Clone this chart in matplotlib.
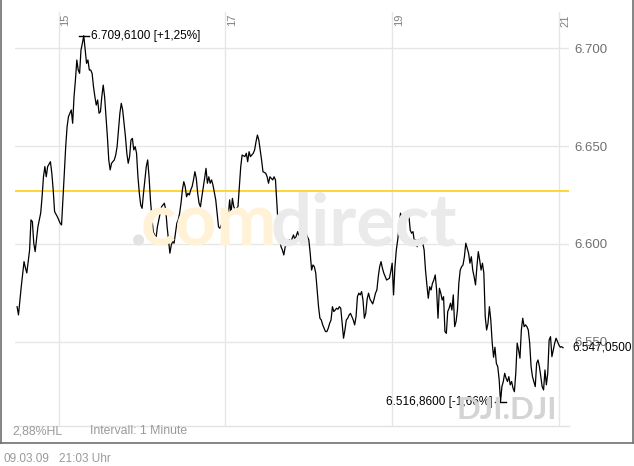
import matplotlib
matplotlib.use("Agg")
import matplotlib.pyplot as plt
from matplotlib.lines import Line2D
from matplotlib.transforms import blended_transform_factory, offset_copy

# ---------------- data (minutes after 14:30, index level) ----------------
minutes = [0, 1, 3, 5, 6, 7, 9, 10, 11, 12, 13, 15, 16, 17, 18, 19, 20, 21, 22, 24,
           25, 26, 27, 29, 31, 32, 33, 34, 35, 36, 37, 39, 40, 41, 42, 43, 44, 45, 46, 47,
           48, 49, 50, 51, 52, 53, 54, 55, 56, 57, 58, 59, 60, 61, 62, 63, 64, 65, 66, 67,
           68, 70, 71, 72, 73, 74, 75, 76, 77, 78, 79, 80, 81, 82, 83, 84, 85, 86, 87, 88,
           89, 90, 91, 92, 93, 94, 95, 96, 97, 98, 99, 100, 101, 102, 103, 104, 106, 107, 108, 109,
           110, 111, 112, 113, 114, 115, 116, 117, 118, 119, 120, 121, 122, 123, 124, 125, 126, 127, 128, 129,
           130, 131, 132, 133, 135, 136, 137, 138, 139, 140, 141, 143, 144, 145, 146, 147, 149, 150, 151, 152,
           153, 154, 155, 156, 157, 158, 159, 160, 161, 162, 164, 165, 166, 167, 168, 170, 171, 172, 173, 174,
           175, 176, 177, 179, 180, 181, 182, 184, 185, 186, 187, 188, 189, 190, 191, 192, 193, 195, 196, 197,
           198, 199, 200, 202, 203, 204, 205, 206, 207, 208, 209, 210, 211, 212, 213, 214, 215, 216, 217, 218,
           219, 220, 221, 222, 223, 224, 225, 226, 227, 228, 229, 230, 231, 232, 233, 234, 235, 236, 237, 238,
           239, 240, 241, 242, 243, 244, 245, 246, 247, 248, 249, 250, 251, 252, 253, 254, 256, 257, 258, 259,
           260, 261, 262, 263, 264, 265, 266, 268, 269, 270, 271, 272, 273, 274, 275, 276, 277, 278, 279, 280,
           281, 282, 283, 284, 285, 286, 287, 288, 289, 290, 291, 292, 293, 294, 295, 296, 297, 298, 299, 300,
           301, 302, 303, 304, 305, 306, 307, 308, 309, 310, 311, 312, 313, 314, 315, 316, 317, 318, 319, 320,
           321, 322, 323, 324, 325, 326, 327, 328, 329, 330, 331, 332, 333, 334, 335, 336, 337, 338, 339, 340,
           341, 342, 343, 344, 345, 346, 347, 348, 349, 350, 351, 352, 353, 354, 355, 356, 357, 358, 359, 360,
           361, 362, 363, 364, 365, 366, 367, 368, 369, 370, 371, 372, 373, 374, 375, 376, 377, 378, 379, 380,
           381, 382, 383, 384, 385, 386, 387, 388, 389, 390, 391, 392, 393]

values = [6568.0, 6563.8, 6578.2, 6591.0, 6587.8, 6585.2, 6596.9, 6612.3, 6611.4, 6600.5,
          6596.1, 6608.8, 6612.3, 6615.8, 6624.1, 6634.3, 6639.5, 6634.3, 6639.5, 6642.0,
          6636.1, 6627.6, 6616.5, 6613.9, 6610.6, 6609.7, 6622.5, 6636.1, 6649.7, 6659.9,
          6665.0, 6668.4, 6661.6, 6675.2, 6683.7, 6693.9, 6688.8, 6687.1, 6699.0, 6702.4,
          6706.3, 6699.0, 6692.2, 6693.9, 6688.8, 6688.8, 6687.1, 6680.3, 6675.2, 6670.9,
          6673.5, 6666.7, 6667.5, 6675.2, 6681.1, 6675.2, 6665.0, 6654.8, 6642.9, 6637.8,
          6641.2, 6642.9, 6645.4, 6649.7, 6658.2, 6666.7, 6671.8, 6668.4, 6661.6, 6654.8,
          6646.3, 6641.2, 6644.6, 6653.1, 6653.9, 6648.0, 6649.7, 6646.3, 6634.3, 6625.9,
          6619.9, 6618.2, 6625.9, 6632.7, 6639.5, 6642.9, 6634.3, 6622.5, 6613.9, 6606.3,
          6604.6, 6602.9, 6608.8, 6612.3, 6615.7, 6619.0, 6620.8, 6617.4, 6608.8, 6602.1,
          6595.3, 6599.5, 6601.2, 6600.4, 6605.5, 6610.6, 6612.3, 6615.7, 6620.8, 6627.6,
          6631.8, 6629.3, 6624.1, 6625.9, 6625.0, 6627.6, 6629.3, 6632.7, 6636.9, 6633.5,
          6625.9, 6620.8, 6619.0, 6624.1, 6633.5, 6638.6, 6631.0, 6634.3, 6631.0, 6632.7,
          6630.1, 6622.5, 6615.7, 6608.8, 6608.0, 6609.7, 6612.3, 6612.3, 6606.3, 6614.0,
          6622.5, 6615.7, 6623.3, 6619.0, 6617.4, 6618.2, 6619.0, 6629.3, 6639.5, 6645.4,
          6644.6, 6646.3, 6642.0, 6647.1, 6644.6, 6646.3, 6648.0, 6652.2, 6655.6, 6653.1,
          6648.0, 6642.9, 6636.9, 6636.1, 6634.3, 6631.0, 6634.3, 6632.7, 6634.3, 6632.7,
          6621.0, 6608.8, 6603.6, 6598.6, 6596.9, 6594.4, 6598.6, 6600.4, 6602.1, 6599.5,
          6602.9, 6604.6, 6602.1, 6606.3, 6603.7, 6602.1, 6600.4, 6603.7, 6607.1, 6605.5,
          6603.7, 6602.1, 6595.3, 6586.7, 6589.3, 6588.4, 6585.1, 6576.5, 6568.0, 6562.1,
          6561.2, 6558.7, 6557.0, 6555.3, 6555.3, 6557.0, 6559.5, 6561.2, 6568.0, 6565.5,
          6566.3, 6567.2, 6566.7, 6568.0, 6567.2, 6559.5, 6551.9, 6556.1, 6561.2, 6562.1,
          6563.7, 6564.6, 6562.9, 6561.2, 6558.7, 6562.9, 6573.1, 6574.9, 6574.0, 6575.7,
          6571.4, 6562.1, 6564.6, 6571.9, 6574.9, 6571.9, 6569.4, 6571.9, 6574.9, 6576.5,
          6583.3, 6588.4, 6591.0, 6587.6, 6585.1, 6583.3, 6581.6, 6582.5, 6585.9, 6590.2,
          6574.0, 6588.4, 6597.0, 6602.1, 6608.8, 6615.7, 6613.1, 6614.0, 6613.1, 6613.1,
          6614.0, 6614.8, 6607.1, 6605.5, 6606.3, 6601.2, 6602.1, 6598.6, 6602.1, 6601.2,
          6602.9, 6600.4, 6597.0, 6586.7, 6579.1, 6572.3, 6578.2, 6576.5, 6579.9, 6581.6,
          6584.2, 6576.5, 6562.1, 6577.4, 6574.9, 6571.4, 6573.1, 6555.3, 6554.4, 6565.5,
          6567.2, 6569.8, 6566.3, 6574.0, 6557.8, 6560.4, 6566.3, 6580.0, 6586.7, 6588.4,
          6589.3, 6593.5, 6600.4, 6597.8, 6595.3, 6590.2, 6593.5, 6586.7, 6583.3, 6579.1,
          6588.4, 6596.1, 6591.8, 6586.7, 6590.2, 6585.1, 6562.9, 6556.1, 6559.5, 6568.0,
          6561.2, 6549.8, 6542.2, 6547.3, 6539.1, 6537.4, 6531.0, 6519.5, 6527.2, 6529.8,
          6534.0, 6531.5, 6529.8, 6532.3, 6528.1, 6529.8, 6526.4, 6524.6, 6534.2, 6549.4,
          6545.9, 6541.7, 6556.1, 6562.1, 6557.8, 6558.7, 6557.8, 6556.1, 6549.4, 6537.4,
          6532.3, 6529.8, 6527.2, 6539.1, 6540.8, 6537.4, 6532.3, 6527.2, 6525.5, 6535.7,
          6528.1, 6534.0, 6551.0, 6552.7, 6542.5, 6545.9, 6549.4, 6551.9, 6550.2, 6548.5,
          6547.3, 6547.6, 6547.05]

prev_close = 6626.94
hour_ticks = [30, 150, 270, 390]          # minutes after 14:30
hour_labels = ["15", "17", "19", "21"]
y_ticks = [6550, 6600, 6650, 6700]
high_label = "6.709,6100 [+1,25%]"
low_label = "6.516,8600 [-1,66%]"
last_label = "6.547,0500"
hl_label = "2,88%HL"
interval_label = "Intervall: 1 Minute"
date_label = "09.03.09"
time_label = "21:03 Uhr"

# ---------------- figure ----------------
W, H = 634, 466
fig = plt.figure(figsize=(W / 100, H / 100), dpi=100)
fig.patch.set_facecolor("white")

def fx(x):
    return x / W

def fy(y):
    return 1 - y / H

ax_left, ax_right, ax_top, ax_bot = 15, 569, 12, 426
ax = fig.add_axes([fx(ax_left), fy(ax_bot), (ax_right - ax_left) / W, (ax_bot - ax_top) / H])
ax.set_facecolor("none")
ax.set_xlim(-1.5, 397.3)
ax.set_ylim(6507.1, 6718.4)

for s in ["top", "left", "right"]:
    ax.spines[s].set_visible(False)
ax.spines["bottom"].set_color("#e2e2e2")
ax.spines["bottom"].set_linewidth(1.0)

grid_c = "#e6e6e6"
for t in y_ticks:
    ax.axhline(t, color=grid_c, lw=1.0, zorder=1)
for t in hour_ticks:
    ax.axvline(t, color=grid_c, lw=1.0, zorder=1)

ax.set_xticks([])
ax.yaxis.tick_right()
ax.set_yticks(y_ticks)
ax.set_yticklabels([f"{v:,.0f}".replace(",", ".") for v in y_ticks])
ax.tick_params(axis="y", length=0, pad=4, labelsize=9.5, labelcolor="#707070")
for lab in ax.get_yticklabels():
    lab.set_fontfamily("Liberation Sans")

# hour labels (rotated, at top, right of the gridlines)
trans = offset_copy(blended_transform_factory(ax.transData, ax.transAxes), fig=fig, x=1.5, y=-2, units="dots")
for t, lab in zip(hour_ticks, hour_labels):
    ax.text(t, 1.0, lab, rotation=90, ha="left", va="top", fontsize=8,
            color="#808080", family="Liberation Sans", transform=trans)

# watermarks
wm_size = 52
fig.text(fx(130), fy(246), ".", fontsize=wm_size, fontweight="bold", family="Lato",
         color="#e2e2e2", ha="left", va="baseline", zorder=0)
fig.text(fx(277), fy(246), "com", fontsize=wm_size, fontweight="bold", family="Lato",
         color="#fff2d6", ha="right", va="baseline", zorder=0)
fig.text(fx(457), fy(246), "direct", fontsize=wm_size, fontweight="bold", family="Lato",
         color="#eaeaea", ha="right", va="baseline", zorder=0)
fig.text(fx(557), fy(419), "DJI.DJI", fontsize=22.5, fontweight="bold", family="Lato",
         color="#d4d4d4", ha="right", va="baseline", zorder=0)

# previous close line
ax.axhline(prev_close, color="#ffcc00", lw=1.1, zorder=2)

# price line
ax.plot(minutes, values, color="black", lw=0.9, zorder=3)

# high / low markers
i_hi = values.index(max(values))
i_lo = values.index(min(values))
mh, vh = minutes[i_hi], values[i_hi]
ml, vl = minutes[i_lo], values[i_lo]
ax.plot([mh - 3.5, mh + 3.5], [vh, vh], color="black", lw=1.0, zorder=4)
ax.plot([ml - 4, ml + 4], [vl, vl], color="black", lw=1.0, zorder=4)
ax.annotate(high_label, xy=(mh, vh), xytext=(7, 0), textcoords="offset pixels",
            ha="left", va="center", fontsize=8.5, family="Liberation Sans", color="black")
ax.annotate(low_label, xy=(ml, vl), xytext=(-8, 0), textcoords="offset pixels",
            ha="right", va="center", fontsize=8.5, family="Liberation Sans", color="black")
ax.annotate(last_label, xy=(1.0, values[-1]), xycoords=("axes fraction", "data"),
            xytext=(3.5, 0), textcoords="offset pixels", ha="left", va="center",
            fontsize=8.5, family="Liberation Sans", color="black", annotation_clip=False)

# bottom texts
fig.text(fx(12), fy(431), hl_label, fontsize=8.8, family="Liberation Sans", color="#9a9a9a",
         ha="left", va="center")
fig.text(fx(90), fy(431), interval_label, fontsize=8.8, family="Liberation Sans", color="#9a9a9a",
         ha="left", va="center")
fig.text(fx(3), fy(459), date_label, fontsize=8.5, family="Liberation Sans", color="#9a9a9a",
         ha="left", va="center")
fig.text(fx(59), fy(459), time_label, fontsize=8.5, family="Liberation Sans", color="#9a9a9a",
         ha="left", va="center")

# outer frame
fc = "#707070"
fig.add_artist(Line2D([fx(0.7), fx(0.7)], [fy(0), fy(443)], color=fc, lw=1.2))
fig.add_artist(Line2D([fx(632.5), fx(632.5)], [fy(0), fy(443)], color=fc, lw=1.2))
fig.add_artist(Line2D([fx(0), fx(633)], [fy(442.5), fy(442.5)], color=fc, lw=1.2))

fig.savefig("out.png", dpi=100)
